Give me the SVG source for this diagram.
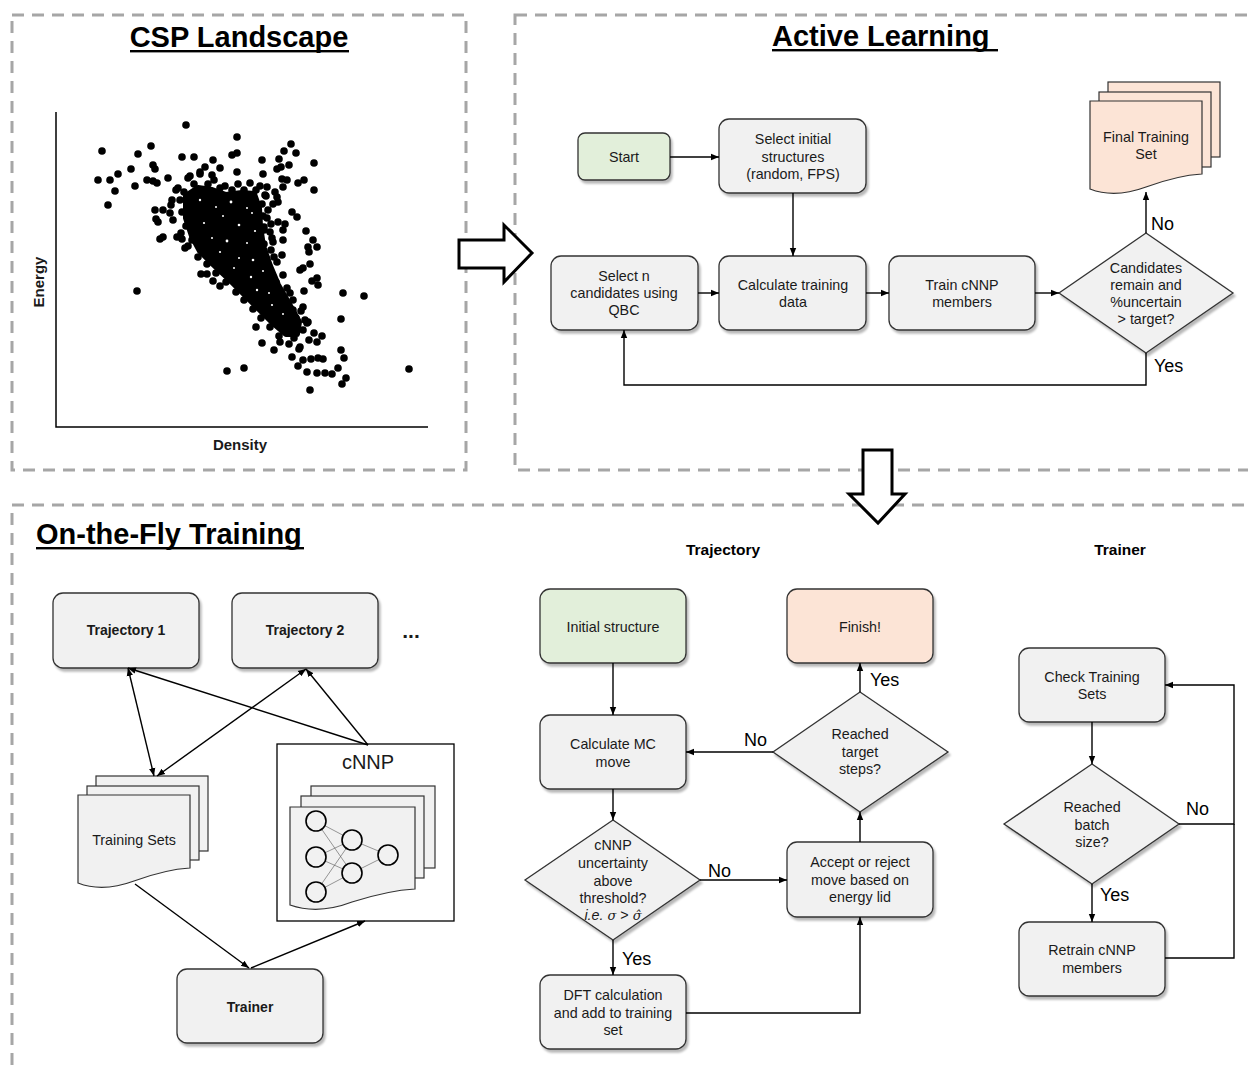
<svg xmlns="http://www.w3.org/2000/svg" width="1248" height="1066" viewBox="0 0 1248 1066">
<defs>
<filter id="sh" x="-10%" y="-10%" width="130%" height="140%">
<feDropShadow dx="2" dy="3" stdDeviation="1.3" flood-color="#000" flood-opacity="0.28"/>
</filter>
<marker id="ah" viewBox="0 0 10 10" refX="10" refY="5" markerWidth="8" markerHeight="8" markerUnits="userSpaceOnUse" orient="auto-start-reverse">
<path d="M0,1 L10,5 L0,9 Z" fill="#000"/>
</marker>
<style>
.dash{fill:none;stroke:#a6a6a6;stroke-width:3;stroke-dasharray:12 8}
.box{fill:#f1f1f1;stroke:#333;stroke-width:1.3;filter:url(#sh)}
.green{fill:#e2efda}
.peach{fill:#fce4d6}
.doc{fill:#f1f1f1;stroke:#333;stroke-width:1.2}
.docp{fill:#fce4d6;stroke:#333;stroke-width:1.2}
.t{font-family:"Liberation Sans",Arial,Helvetica,sans-serif;font-size:14.3px;fill:#1a1a1a;text-anchor:middle}
.b{font-weight:bold}
.lbl{font-family:"Liberation Sans",Arial,Helvetica,sans-serif;font-size:18px;fill:#000}
.title{font-family:"Liberation Sans",Arial,Helvetica,sans-serif;font-size:29px;font-weight:bold;fill:#000}
.head{font-family:"Liberation Sans",Arial,Helvetica,sans-serif;font-size:15.5px;font-weight:bold;fill:#000;text-anchor:middle}
.conn{fill:none;stroke:#000;stroke-width:1.4;marker-end:url(#ah)}
.line{fill:none;stroke:#000;stroke-width:1.4}
.big{fill:#fff;stroke:#000;stroke-width:3;stroke-linejoin:miter}
.nn{fill:none;stroke:#555;stroke-width:0.6}
.neu{fill:#f1f1f1;stroke:#000;stroke-width:1.6}
.dot{fill:#000}
.hole{fill:#fff}
.math{font-family:"DejaVu Serif","Liberation Serif",serif;font-style:italic;font-size:13px}
</style>
</defs>
<rect width="1248" height="1066" fill="#fff"/>

<!-- section frames -->
<g id="sections">
<rect class="dash" x="12" y="15" width="454" height="455"/>
<rect class="dash" x="515" y="15" width="760" height="455"/>
<rect class="dash" x="12" y="505" width="1260" height="600"/>
</g>

<!-- titles -->
<g id="titles">
<text class="title" x="239" y="47" text-anchor="middle">CSP Landscape</text>
<rect x="130" y="50" width="219" height="2.4" fill="#000"/>
<text class="title" x="772" y="46">Active Learning</text>
<rect x="772" y="49" width="226" height="2.4" fill="#000"/>
<text class="title" x="36" y="544">On-the-Fly Training</text>
<rect x="36" y="547" width="268" height="2.4" fill="#000"/>
<text class="head" x="723" y="555">Trajectory</text>
<text class="head" x="1120" y="555">Trainer</text>
</g>

<!-- scatter plot -->
<g id="csp-plot">
<path d="M56,112 V427 H428" fill="none" stroke="#000" stroke-width="1.5"/>
<text class="t b" x="0" y="0" transform="translate(44,282) rotate(-90)" style="font-size:15px">Energy</text>
<text class="t b" x="240" y="450" style="font-size:15px">Density</text>
<path d="M186,196 L198,188 L212,190 L226,195 L242,193 L254,194 L259,208 L260,226 L263,246 L270,266 L278,285 L289,304 L299,322 L297,334 L286,334 L272,322 L257,307 L242,292 L227,277 L212,263 L200,251 L192,236 L186,218 Z" fill="#000" stroke="#000" stroke-width="6" stroke-linejoin="round"/>
<g class="dot">
<circle cx="102" cy="151" r="3.8"/><circle cx="186" cy="125" r="3.8"/><circle cx="237" cy="137" r="3.8"/><circle cx="151" cy="146" r="3.8"/>
<circle cx="138" cy="154" r="3.8"/><circle cx="98" cy="180" r="3.8"/><circle cx="110" cy="180" r="3.8"/><circle cx="118" cy="174" r="3.8"/>
<circle cx="115" cy="191" r="3.8"/><circle cx="108" cy="205" r="3.8"/><circle cx="131" cy="169" r="3.8"/><circle cx="135" cy="186" r="3.8"/>
<circle cx="147" cy="180" r="3.8"/><circle cx="153" cy="181" r="3.8"/><circle cx="157" cy="183" r="3.8"/><circle cx="153" cy="165" r="3.8"/>
<circle cx="155" cy="169" r="3.8"/><circle cx="168" cy="178" r="3.8"/><circle cx="182" cy="157" r="3.8"/><circle cx="194" cy="157" r="3.8"/>
<circle cx="213" cy="160" r="3.8"/><circle cx="220" cy="168" r="3.8"/><circle cx="232" cy="155" r="3.8"/><circle cx="237" cy="153" r="3.8"/>
<circle cx="237" cy="172" r="3.8"/><circle cx="262" cy="160" r="3.8"/><circle cx="263" cy="174" r="3.8"/><circle cx="279" cy="159" r="3.8"/>
<circle cx="284" cy="151" r="3.8"/><circle cx="291" cy="144" r="3.8"/><circle cx="296" cy="153" r="3.8"/><circle cx="289" cy="165" r="3.8"/>
<circle cx="277" cy="169" r="3.8"/><circle cx="281" cy="167" r="3.8"/><circle cx="314" cy="163" r="3.8"/><circle cx="282" cy="179" r="3.8"/>
<circle cx="287" cy="180" r="3.8"/><circle cx="283" cy="187" r="3.8"/><circle cx="298" cy="183" r="3.8"/><circle cx="304" cy="180" r="3.8"/>
<circle cx="314" cy="190" r="3.8"/><circle cx="267" cy="187" r="3.8"/><circle cx="265" cy="195" r="3.8"/><circle cx="275" cy="192" r="3.8"/>
<circle cx="277" cy="197" r="3.8"/><circle cx="273" cy="204" r="3.8"/><circle cx="278" cy="202" r="3.8"/><circle cx="292" cy="212" r="3.8"/>
<circle cx="297" cy="217" r="3.8"/><circle cx="267" cy="218" r="3.8"/><circle cx="278" cy="222" r="3.8"/><circle cx="285" cy="224" r="3.8"/>
<circle cx="283" cy="230" r="3.8"/><circle cx="264" cy="227" r="3.8"/><circle cx="270" cy="232" r="3.8"/><circle cx="273" cy="242" r="3.8"/>
<circle cx="283" cy="240" r="3.8"/><circle cx="306" cy="231" r="3.8"/><circle cx="313" cy="240" r="3.8"/><circle cx="317" cy="247" r="3.8"/>
<circle cx="308" cy="247" r="3.8"/><circle cx="274" cy="257" r="3.8"/><circle cx="282" cy="255" r="3.8"/><circle cx="309" cy="252" r="3.8"/>
<circle cx="310" cy="264" r="3.8"/><circle cx="300" cy="270" r="3.8"/><circle cx="303" cy="268" r="3.8"/><circle cx="312" cy="281" r="3.8"/>
<circle cx="317" cy="278" r="3.8"/><circle cx="318" cy="285" r="3.8"/><circle cx="304" cy="291" r="3.8"/><circle cx="290" cy="293" r="3.8"/>
<circle cx="343" cy="293" r="3.8"/><circle cx="364" cy="296" r="3.8"/><circle cx="283" cy="298" r="3.8"/><circle cx="303" cy="307" r="3.8"/>
<circle cx="293" cy="310" r="3.8"/><circle cx="287" cy="312" r="3.8"/><circle cx="341" cy="319" r="3.8"/><circle cx="305" cy="320" r="3.8"/>
<circle cx="307" cy="323" r="3.8"/><circle cx="256" cy="327" r="3.8"/><circle cx="322" cy="336" r="3.8"/><circle cx="317" cy="342" r="3.8"/>
<circle cx="262" cy="343" r="3.8"/><circle cx="274" cy="350" r="3.8"/><circle cx="299" cy="349" r="3.8"/><circle cx="292" cy="357" r="3.8"/>
<circle cx="341" cy="350" r="3.8"/><circle cx="344" cy="358" r="3.8"/><circle cx="303" cy="360" r="3.8"/><circle cx="311" cy="359" r="3.8"/>
<circle cx="318" cy="358" r="3.8"/><circle cx="323" cy="359" r="3.8"/><circle cx="298" cy="366" r="3.8"/><circle cx="307" cy="372" r="3.8"/>
<circle cx="317" cy="373" r="3.8"/><circle cx="325" cy="373" r="3.8"/><circle cx="332" cy="374" r="3.8"/><circle cx="338" cy="368" r="3.8"/>
<circle cx="346" cy="378" r="3.8"/><circle cx="342" cy="384" r="3.8"/><circle cx="310" cy="390" r="3.8"/><circle cx="409" cy="369" r="3.8"/>
<circle cx="227" cy="371" r="3.8"/><circle cx="244" cy="368" r="3.8"/><circle cx="137" cy="291" r="3.8"/><circle cx="155" cy="210" r="3.8"/>
<circle cx="163" cy="210" r="3.8"/><circle cx="156" cy="219" r="3.8"/><circle cx="158" cy="222" r="3.8"/><circle cx="160" cy="239" r="3.8"/>
<circle cx="163" cy="237" r="3.8"/><circle cx="177" cy="237" r="3.8"/><circle cx="182" cy="239" r="3.8"/><circle cx="185" cy="248" r="3.8"/>
<circle cx="201" cy="274" r="3.8"/><circle cx="207" cy="274" r="3.8"/><circle cx="213" cy="281" r="3.8"/><circle cx="220" cy="286" r="3.8"/>
<circle cx="280" cy="342" r="3.8"/><circle cx="172" cy="200" r="3.8"/><circle cx="170" cy="213" r="3.8"/><circle cx="176" cy="190" r="3.8"/>
<circle cx="190" cy="176" r="3.8"/><circle cx="200" cy="172" r="3.8"/><circle cx="205" cy="167" r="3.8"/><circle cx="212" cy="175" r="3.8"/>
<circle cx="171" cy="205" r="3.8"/><circle cx="173" cy="220" r="3.8"/><circle cx="181" cy="233" r="3.8"/><circle cx="188" cy="246" r="3.8"/>
<circle cx="198" cy="257" r="3.8"/><circle cx="207" cy="264" r="3.8"/><circle cx="216" cy="273" r="3.8"/><circle cx="226" cy="282" r="3.8"/>
<circle cx="236" cy="292" r="3.8"/><circle cx="244" cy="300" r="3.8"/><circle cx="253" cy="309" r="3.8"/><circle cx="261" cy="318" r="3.8"/>
<circle cx="270" cy="327" r="3.8"/><circle cx="279" cy="336" r="3.8"/><circle cx="289" cy="344" r="3.8"/><circle cx="300" cy="347" r="3.8"/>
<circle cx="309" cy="340" r="3.8"/><circle cx="178" cy="188" r="3.8"/><circle cx="188" cy="178" r="3.8"/><circle cx="200" cy="174" r="3.8"/>
<circle cx="214" cy="180" r="3.8"/><circle cx="225" cy="186" r="3.8"/><circle cx="238" cy="184" r="3.8"/><circle cx="250" cy="183" r="3.8"/>
<circle cx="260" cy="186" r="3.8"/><circle cx="266" cy="196" r="3.8"/><circle cx="268" cy="210" r="3.8"/><circle cx="271" cy="224" r="3.8"/>
<circle cx="272" cy="238" r="3.8"/><circle cx="271" cy="250" r="3.8"/><circle cx="277" cy="262" r="3.8"/><circle cx="283" cy="275" r="3.8"/>
<circle cx="287" cy="288" r="3.8"/><circle cx="293" cy="300" r="3.8"/><circle cx="301" cy="311" r="3.8"/><circle cx="308" cy="322" r="3.8"/>
<circle cx="314" cy="333" r="3.8"/>
<circle cx="180" cy="200" r="3.8"/><circle cx="182" cy="212" r="3.8"/><circle cx="186" cy="226" r="3.8"/><circle cx="192" cy="240" r="3.8"/>
<circle cx="203" cy="252" r="3.8"/><circle cx="212" cy="260" r="3.8"/><circle cx="222" cy="270" r="3.8"/><circle cx="232" cy="280" r="3.8"/>
<circle cx="240" cy="288" r="3.8"/><circle cx="250" cy="298" r="3.8"/><circle cx="258" cy="306" r="3.8"/><circle cx="266" cy="314" r="3.8"/>
<circle cx="275" cy="322" r="3.8"/><circle cx="284" cy="330" r="3.8"/><circle cx="294" cy="338" r="3.8"/><circle cx="303" cy="330" r="3.8"/>
<circle cx="296" cy="318" r="3.8"/><circle cx="290" cy="310" r="3.8"/><circle cx="282" cy="296" r="3.8"/><circle cx="276" cy="282" r="3.8"/>
<circle cx="270" cy="270" r="3.8"/><circle cx="266" cy="258" r="3.8"/><circle cx="264" cy="244" r="3.8"/><circle cx="264" cy="230" r="3.8"/>
<circle cx="263" cy="216" r="3.8"/><circle cx="262" cy="204" r="3.8"/><circle cx="256" cy="190" r="3.8"/><circle cx="244" cy="190" r="3.8"/>
<circle cx="232" cy="190" r="3.8"/><circle cx="220" cy="188" r="3.8"/><circle cx="208" cy="184" r="3.8"/><circle cx="194" cy="184" r="3.8"/>
<circle cx="184" cy="192" r="3.8"/>
</g>
<g class="hole">
<circle cx="200" cy="200" r="1.2"/><circle cx="216" cy="207" r="1"/><circle cx="231" cy="202" r="1.4"/><circle cx="247" cy="208" r="1"/>
<circle cx="204" cy="223" r="1.1"/><circle cx="223" cy="216" r="1"/><circle cx="239" cy="225" r="1.3"/><circle cx="252" cy="213" r="1"/>
<circle cx="212" cy="238" r="1"/><circle cx="227" cy="241" r="1.4"/><circle cx="247" cy="243" r="1"/><circle cx="255" cy="231" r="1.1"/>
<circle cx="220" cy="252" r="1.1"/><circle cx="239" cy="258" r="1"/><circle cx="253" cy="260" r="1.3"/><circle cx="234" cy="268" r="1"/>
<circle cx="251" cy="277" r="1.2"/><circle cx="263" cy="271" r="1"/><circle cx="257" cy="290" r="1.2"/><circle cx="269" cy="293" r="1"/>
<circle cx="272" cy="305" r="1.1"/><circle cx="283" cy="314" r="1"/>
</g>
</g>

<!-- big block arrows -->
<g id="arrow-right"><path class="big" d="M459,240 H504 V225 L532,253 L504,282 V268 H459 Z"/></g>
<g id="arrow-down"><path class="big" d="M863,450 H892 V494 H905 L878,523 L849,494 H863 Z"/></g>

<!-- Active Learning nodes -->
<g id="al-start"><rect class="box green" x="578" y="133" width="92" height="47" rx="7"/><text class="t" x="624" y="162">Start</text></g>
<g id="al-select-initial"><rect class="box" x="719" y="119" width="147" height="74" rx="10"/>
<text class="t" x="793" y="144">Select initial</text><text class="t" x="793" y="162">structures</text><text class="t" x="793" y="179">(random, FPS)</text></g>
<g id="al-select-n"><rect class="box" x="551" y="256" width="147" height="74" rx="10"/>
<text class="t" x="624" y="281">Select n</text><text class="t" x="624" y="298">candidates using</text><text class="t" x="624" y="315">QBC</text></g>
<g id="al-calc"><rect class="box" x="719" y="256" width="147" height="74" rx="10"/>
<text class="t" x="793" y="290">Calculate training</text><text class="t" x="793" y="307">data</text></g>
<g id="al-train"><rect class="box" x="889" y="256" width="146" height="74" rx="10"/>
<text class="t" x="962" y="290">Train cNNP</text><text class="t" x="962" y="307">members</text></g>
<g id="al-decision"><polygon class="box" points="1146,233 1233,293 1146,353 1059,293"/>
<text class="t" x="1146" y="273">Candidates</text><text class="t" x="1146" y="290">remain and</text><text class="t" x="1146" y="307">%uncertain</text><text class="t" x="1146" y="324">&gt; target?</text></g>
<g id="al-final-set">
<rect class="docp" x="1108" y="82" width="112" height="75"/>
<rect class="docp" x="1099" y="92" width="112" height="75"/>
<path class="docp" d="M1090,101 H1202 V174 C1185,175 1165,180 1146,187 C1127,194 1108,196 1090,189 Z"/>
<text class="t" x="1146" y="142">Final Training</text><text class="t" x="1146" y="159">Set</text></g>

<!-- On-the-fly overview nodes -->
<g id="otf-traj1"><rect class="box" x="53" y="593" width="146" height="75" rx="10"/><text class="t b" x="126" y="635" style="font-size:14px">Trajectory 1</text></g>
<g id="otf-traj2"><rect class="box" x="232" y="593" width="146" height="75" rx="10"/><text class="t b" x="305" y="635" style="font-size:14px">Trajectory 2</text></g>
<g id="otf-more"><text class="t b" x="411" y="638" style="font-size:21px">...</text></g>
<g id="otf-training-sets">
<rect class="doc" x="96" y="776" width="112" height="75"/>
<rect class="doc" x="87" y="786" width="112" height="74"/>
<path class="doc" d="M78,795 H190 V868 C173,869 153,874 134,881 C115,888 96,890 78,883 Z"/>
<text class="t" x="134" y="845">Training Sets</text></g>
<g id="otf-cnnp">
<rect x="277" y="744" width="177" height="177" fill="#fff" stroke="#000" stroke-width="1.3"/>
<text class="t" x="368" y="769" style="font-size:20px">cNNP</text>
<rect class="doc" x="311" y="786" width="124" height="82"/>
<rect class="doc" x="301" y="796" width="123" height="82"/>
<path class="doc" d="M290,807 H415 V889 C396,890 374,895 352,902 C331,910 310,912 290,905 Z"/>
<g class="nn">
<line x1="316" y1="821" x2="352" y2="840"/><line x1="316" y1="821" x2="352" y2="873"/>
<line x1="316" y1="857" x2="352" y2="840"/><line x1="316" y1="857" x2="352" y2="873"/>
<line x1="316" y1="892" x2="352" y2="840"/><line x1="316" y1="892" x2="352" y2="873"/>
<line x1="352" y1="840" x2="388" y2="855"/><line x1="352" y1="873" x2="388" y2="855"/>
</g>
<circle class="neu" cx="316" cy="821" r="10"/><circle class="neu" cx="316" cy="857" r="10"/><circle class="neu" cx="316" cy="892" r="10"/>
<circle class="neu" cx="352" cy="840" r="10"/><circle class="neu" cx="352" cy="873" r="10"/><circle class="neu" cx="388" cy="855" r="10"/>
</g>
<g id="otf-trainer"><rect class="box" x="177" y="969" width="146" height="74" rx="10"/><text class="t b" x="250" y="1012" style="font-size:14px">Trainer</text></g>

<!-- Trajectory flowchart nodes -->
<g id="tr-initial"><rect class="box green" x="540" y="589" width="146" height="74" rx="10"/><text class="t" x="613" y="632">Initial structure</text></g>
<g id="tr-finish"><rect class="box peach" x="787" y="589" width="146" height="74" rx="10"/><text class="t" x="860" y="632">Finish!</text></g>
<g id="tr-calc-mc"><rect class="box" x="540" y="715" width="146" height="74" rx="10"/>
<text class="t" x="613" y="749">Calculate MC</text><text class="t" x="613" y="767">move</text></g>
<g id="tr-uncertainty"><polygon class="box" points="613,820 700,880 613,940 525,880"/>
<text class="t" x="613" y="850">cNNP</text><text class="t" x="613" y="868">uncertainty</text><text class="t" x="613" y="886">above</text><text class="t" x="613" y="903">threshold?</text>
<text class="t" x="613" y="920"><tspan font-style="italic">i.e.</tspan> <tspan class="math">σ</tspan> &gt; <tspan class="math">σ̂</tspan></text></g>
<g id="tr-dft"><rect class="box" x="540" y="975" width="146" height="74" rx="10"/>
<text class="t" x="613" y="1000">DFT calculation</text><text class="t" x="613" y="1018">and add to training</text><text class="t" x="613" y="1035">set</text></g>
<g id="tr-accept"><rect class="box" x="787" y="842" width="146" height="75" rx="10"/>
<text class="t" x="860" y="867">Accept or reject</text><text class="t" x="860" y="885">move based on</text><text class="t" x="860" y="902">energy lid</text></g>
<g id="tr-reached"><polygon class="box" points="860,692 948,752 860,812 773,752"/>
<text class="t" x="860" y="739">Reached</text><text class="t" x="860" y="757">target</text><text class="t" x="860" y="774">steps?</text></g>

<!-- Trainer flowchart nodes -->
<g id="tn-check"><rect class="box" x="1019" y="648" width="146" height="74" rx="10"/>
<text class="t" x="1092" y="682">Check Training</text><text class="t" x="1092" y="699">Sets</text></g>
<g id="tn-batch"><polygon class="box" points="1092,764 1179,824 1092,884 1004,824"/>
<text class="t" x="1092" y="812">Reached</text><text class="t" x="1092" y="830">batch</text><text class="t" x="1092" y="847">size?</text></g>
<g id="tn-retrain"><rect class="box" x="1019" y="922" width="146" height="74" rx="10"/>
<text class="t" x="1092" y="955">Retrain cNNP</text><text class="t" x="1092" y="973">members</text></g>

<!-- connectors -->
<g id="connectors">
<path class="conn" d="M670,157 H719"/>
<path class="conn" d="M793,193 V256"/>
<path class="conn" d="M698,293 H719"/>
<path class="conn" d="M866,293 H889"/>
<path class="conn" d="M1035,293 H1059"/>
<path class="conn" d="M1146,233 V192"/>
<path class="conn" d="M1146,353 V385 H624 V330"/>

<path class="conn" d="M128,668 L154,776" style="marker-start:url(#ah)"/>
<path class="conn" d="M306,669 L157,776" style="marker-start:url(#ah)"/>
<path class="conn" d="M368,745 L128,668"/>
<path class="conn" d="M368,745 L306,669"/>
<path class="conn" d="M135,884 L249,968"/>
<path class="conn" d="M251,968 L365,921"/>

<path class="conn" d="M613,663 V715"/>
<path class="conn" d="M613,789 V820"/>
<path class="conn" d="M700,880 H787"/>
<path class="conn" d="M613,940 V975"/>
<path class="conn" d="M686,1013 H860 V917"/>
<path class="conn" d="M860,842 V812"/>
<path class="conn" d="M860,692 V663"/>
<path class="conn" d="M773,752 H686"/>

<path class="conn" d="M1092,722 V764"/>
<path class="conn" d="M1092,884 V922"/>
<path class="conn" d="M1179,824 H1234 V685 H1165"/>
<path class="line" d="M1165,958 H1234 V824"/>

<text class="lbl" x="1151" y="230">No</text>
<text class="lbl" x="1154" y="372">Yes</text>
<text class="lbl" x="708" y="877">No</text>
<text class="lbl" x="622" y="965">Yes</text>
<text class="lbl" x="870" y="686">Yes</text>
<text class="lbl" x="744" y="746">No</text>
<text class="lbl" x="1186" y="815">No</text>
<text class="lbl" x="1100" y="901">Yes</text>
</g>
</svg>
